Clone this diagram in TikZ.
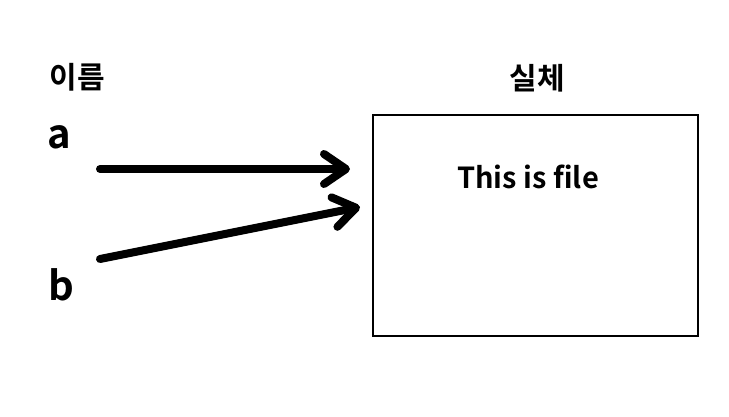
\documentclass[tikz,border=0pt]{standalone}
\usepackage{fontspec}
\setmainfont{Noto Sans CJK KR}[BoldFont={* Bold}]
\usetikzlibrary{arrows.meta}
\begin{document}
\begin{tikzpicture}[x=1pt,y=-1pt,
  lbl/.style={inner sep=0pt, font=\fontsize{30}{34}\selectfont\bfseries},
  big/.style={inner sep=0pt, font=\fontsize{40}{44}\selectfont\bfseries},
  ptr/.style={line width=8pt, line cap=round,
    -{Straight Barb[length=22pt, width=30pt, line cap=round, line join=round]}}]
\useasboundingbox (0,0) rectangle (729,416);
\node[lbl] (name) at (77,77) {이름};
\node[lbl] (real) at (537,78) {실체};
\node[big, anchor=base] (a) at (59,148) {a};
\node[big, anchor=base] (b) at (61,300) {b};
\node[draw, line width=2pt, minimum width=325pt, minimum height=221pt, anchor=north west] (box) at (372,114) {};
\node[lbl, anchor=base, font=\fontsize{29}{32}\selectfont\bfseries] (txt) at (528,188) {This is file};
\coordinate (as) at (100,169);
\coordinate (ae) at (350,169);
\coordinate (bs) at (100,259);
\coordinate (be) at (360,207);
\draw[ptr] (as) -- (ae);
\draw[ptr] (bs) -- (be);
\end{tikzpicture}
\end{document}
